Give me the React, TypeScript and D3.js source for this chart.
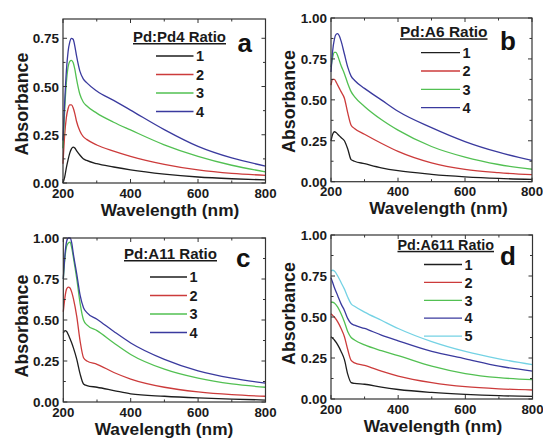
import React from "react";
import * as d3 from "d3";

// ---------- DATA ----------
const xTicks = [200, 400, 600, 800];
const xMinorTicks = [300, 500, 700];
const yTicksA = [0, 0.25, 0.5, 0.75];
const yTicksFull = [0, 0.25, 0.5, 0.75, 1.0];
const seriesLabels4 = ["1", "2", "3", "4"];
const seriesLabels5 = ["1", "2", "3", "4", "5"];
const colors = ["#1e1e1e", "#cc3b3b", "#52c052", "#3a3a9e", "#74d2e4"];

const waveA = [200, 205, 210, 215, 220, 225, 230, 235, 240, 250, 260, 270, 300, 350, 400, 500, 600, 700, 800];
const pa1 = [0.0, 0.03, 0.08, 0.12, 0.155, 0.177, 0.186, 0.181, 0.168, 0.145, 0.126, 0.117, 0.1, 0.083, 0.068, 0.046, 0.031, 0.022, 0.016];
const pa2 = [0.1, 0.25, 0.34, 0.385, 0.405, 0.405, 0.39, 0.36, 0.32, 0.27, 0.24, 0.226, 0.197, 0.165, 0.138, 0.097, 0.068, 0.05, 0.04];
const pa3 = [0.18, 0.38, 0.52, 0.6, 0.63, 0.636, 0.625, 0.59, 0.54, 0.46, 0.42, 0.4, 0.362, 0.315, 0.275, 0.198, 0.138, 0.092, 0.058];
const pa4 = [0.22, 0.42, 0.58, 0.68, 0.73, 0.75, 0.745, 0.71, 0.66, 0.58, 0.54, 0.52, 0.477, 0.428, 0.378, 0.277, 0.19, 0.13, 0.088];

const waveB = [200, 205, 210, 215, 220, 225, 230, 240, 250, 260, 270, 300, 350, 400, 500, 600, 700, 800];
const pb1 = [0.25, 0.29, 0.305, 0.3, 0.29, 0.28, 0.27, 0.25, 0.2, 0.135, 0.125, 0.11, 0.085, 0.067, 0.045, 0.03, 0.02, 0.014];
const pb2 = [0.59, 0.625, 0.625, 0.61, 0.59, 0.57, 0.55, 0.51, 0.42, 0.345, 0.325, 0.29, 0.235, 0.185, 0.115, 0.075, 0.055, 0.043];
const pb3 = [0.7, 0.76, 0.79, 0.79, 0.77, 0.74, 0.71, 0.66, 0.6, 0.55, 0.52, 0.46, 0.38, 0.315, 0.215, 0.15, 0.105, 0.076];
const pb4 = [0.67, 0.8, 0.87, 0.9, 0.905, 0.89, 0.86, 0.78, 0.7, 0.645, 0.62, 0.57, 0.5, 0.43, 0.33, 0.245, 0.18, 0.13];

const waveC = [200, 205, 210, 215, 220, 225, 230, 240, 250, 260, 270, 300, 350, 400, 500, 600, 700, 800];
const pc1 = [0.42, 0.435, 0.43, 0.41, 0.385, 0.36, 0.33, 0.26, 0.17, 0.11, 0.1, 0.09, 0.07, 0.05, 0.035, 0.025, 0.018, 0.012];
const pc2 = [0.55, 0.64, 0.69, 0.7, 0.695, 0.67, 0.63, 0.52, 0.37, 0.27, 0.25, 0.23, 0.18, 0.14, 0.09, 0.062, 0.045, 0.035];
const pc3 = [0.75, 0.88, 0.95, 0.97, 0.975, 0.94, 0.88, 0.75, 0.6, 0.5, 0.47, 0.435, 0.36, 0.29, 0.2, 0.145, 0.11, 0.09];
const pc4 = [0.75, 0.9, 0.98, 1.0, 1.0, 0.97, 0.9, 0.78, 0.65, 0.575, 0.545, 0.505, 0.43, 0.36, 0.26, 0.19, 0.145, 0.115];

const waveD = [200, 205, 210, 220, 230, 240, 250, 260, 270, 300, 350, 400, 500, 600, 700, 800];
const pd1 = [0.38, 0.37, 0.36, 0.33, 0.29, 0.24, 0.15, 0.1, 0.095, 0.09, 0.072, 0.058, 0.04, 0.028, 0.02, 0.016];
const pd2 = [0.52, 0.51, 0.5, 0.47, 0.43, 0.38, 0.3, 0.235, 0.22, 0.205, 0.17, 0.14, 0.1, 0.075, 0.062, 0.055];
const pd3 = [0.59, 0.59, 0.585, 0.56, 0.52, 0.47, 0.41, 0.375, 0.36, 0.33, 0.295, 0.265, 0.2, 0.155, 0.13, 0.118];
const pd4 = [0.74, 0.71, 0.68, 0.63, 0.58, 0.54, 0.49, 0.46, 0.45, 0.43, 0.39, 0.355, 0.29, 0.245, 0.2, 0.17];
const pd5 = [0.78, 0.785, 0.78, 0.75, 0.71, 0.67, 0.62, 0.58, 0.565, 0.53, 0.48, 0.43, 0.35, 0.29, 0.245, 0.21];

const legendTitles = ["Pd:Pd4 Ratio", "Pd:A6 Ratio", "Pd:A11 Ratio", "Pd:A611 Ratio"];
const panelLetters = ["a", "b", "c", "d"];
const xAxisTitle = "Wavelength (nm)";
const yAxisTitle = "Absorbance";

// ---------- LAYOUT ----------
const FONT = "'Liberation Sans', Arial, sans-serif";

type PanelCfg = {
  left: number; right: number; top: number; bottom: number;
  yMax: number; yTicks: number[];
  wave: number[]; series: number[][]; labels: string[];
  title: string; letter: string;
  titleX: number; titleY: number; titleW: number;
  letterX: number; letterY: number;
  legX0: number; legX1: number; legY0: number; legDy: number;
  yLabelX: number; yLabelY: number; xLabelX: number;
};

const panels: PanelCfg[] = [
  {
    left: 63, right: 265.5, top: 19, bottom: 183, yMax: 0.85, yTicks: yTicksA,
    wave: waveA, series: [pa1, pa2, pa3, pa4], labels: seriesLabels4,
    title: legendTitles[0], letter: panelLetters[0],
    titleX: 133, titleY: 42, titleW: 93,
    letterX: 237.5, letterY: 51.5,
    legX0: 156, legX1: 193.5, legY0: 56, legDy: 18.5,
    yLabelX: 28, yLabelY: 104, xLabelX: 170,
  },
  {
    left: 331, right: 532, top: 18, bottom: 181.7, yMax: 1.0, yTicks: yTicksFull,
    wave: waveB, series: [pb1, pb2, pb3, pb4], labels: seriesLabels4,
    title: legendTitles[1], letter: panelLetters[1],
    titleX: 400, titleY: 37.3, titleW: 87.5,
    letterX: 500, letterY: 49.5,
    legX0: 421, legX1: 460, legY0: 52.7, legDy: 18.3,
    yLabelX: 295, yLabelY: 101.5, xLabelX: 438.5,
  },
  {
    left: 63.3, right: 265.5, top: 238, bottom: 402, yMax: 1.0, yTicks: yTicksFull,
    wave: waveC, series: [pc1, pc2, pc3, pc4], labels: seriesLabels4,
    title: legendTitles[2], letter: panelLetters[2],
    titleX: 124, titleY: 259, titleW: 93,
    letterX: 236, letterY: 266.5,
    legX0: 150, legX1: 187, legY0: 277, legDy: 18.5,
    yLabelX: 28, yLabelY: 326, xLabelX: 164,
  },
  {
    left: 331, right: 532.5, top: 235, bottom: 399, yMax: 1.0, yTicks: yTicksFull,
    wave: waveD, series: [pd1, pd2, pd3, pd4, pd5], labels: seriesLabels5,
    title: legendTitles[3], letter: panelLetters[3],
    titleX: 397.5, titleY: 249.8, titleW: 96.5,
    letterX: 500, letterY: 264.5,
    legX0: 424, legX1: 462, legY0: 264.5, legDy: 17.9,
    yLabelX: 295, yLabelY: 313.5, xLabelX: 433,
  },
];

function Panel({ p }: { p: PanelCfg }) {
  const x = d3.scaleLinear().domain([200, 800]).range([p.left, p.right]);
  const y = d3.scaleLinear().domain([0, p.yMax]).range([p.bottom, p.top]);
  const line = d3
    .line<[number, number]>()
    .x((d) => x(d[0]))
    .y((d) => y(d[1]))
    .curve(d3.curveMonotoneX);
  const yMinor: number[] = d3.range(0.125, p.yMax, 0.25);
  const axisColor = "#333";
  const tickLen = 4;
  const minorLen = 2.5;
  return (
    <g>
      {p.series.map((s, i) => (
        <path
          key={i}
          d={line(p.wave.map((w, j) => [w, s[j]] as [number, number])) || ""}
          fill="none"
          stroke={colors[i]}
          strokeWidth={1.3}
        />
      ))}
      <rect
        x={p.left}
        y={p.top}
        width={p.right - p.left}
        height={p.bottom - p.top}
        fill="none"
        stroke={axisColor}
        strokeWidth={1.2}
      />
      {xTicks.map((t) => (
        <g key={"xt" + t}>
          <line x1={x(t)} x2={x(t)} y1={p.bottom} y2={p.bottom - tickLen} stroke={axisColor} strokeWidth={1} />
          <line x1={x(t)} x2={x(t)} y1={p.top} y2={p.top + tickLen} stroke={axisColor} strokeWidth={1} />
          <text x={x(t)} y={p.bottom + 14.5} textAnchor="middle" fontFamily={FONT} fontWeight="bold" fontSize={13.3} fill="#1a1a1a">
            {t}
          </text>
        </g>
      ))}
      {xMinorTicks.map((t) => (
        <g key={"xm" + t}>
          <line x1={x(t)} x2={x(t)} y1={p.bottom} y2={p.bottom - minorLen} stroke={axisColor} strokeWidth={1} />
          <line x1={x(t)} x2={x(t)} y1={p.top} y2={p.top + minorLen} stroke={axisColor} strokeWidth={1} />
        </g>
      ))}
      {p.yTicks.map((t) => (
        <g key={"yt" + t}>
          <line x1={p.left} x2={p.left + tickLen} y1={y(t)} y2={y(t)} stroke={axisColor} strokeWidth={1} />
          <line x1={p.right} x2={p.right - tickLen} y1={y(t)} y2={y(t)} stroke={axisColor} strokeWidth={1} />
          <text x={p.left - 4} y={y(t) + 5} textAnchor="end" fontFamily={FONT} fontWeight="bold" fontSize={13.5} fill="#1a1a1a">
            {t.toFixed(2)}
          </text>
        </g>
      ))}
      {yMinor.map((t) => (
        <g key={"ym" + t}>
          <line x1={p.left} x2={p.left + minorLen} y1={y(t)} y2={y(t)} stroke={axisColor} strokeWidth={1} />
          <line x1={p.right} x2={p.right - minorLen} y1={y(t)} y2={y(t)} stroke={axisColor} strokeWidth={1} />
        </g>
      ))}
      <text
        x={p.xLabelX}
        y={p.bottom + 32.5}
        textAnchor="middle"
        fontFamily={FONT}
        fontWeight="bold"
        fontSize={17.3}
        fill="#1a1a1a"
      >
        {xAxisTitle}
      </text>
      <text
        transform={`translate(${p.yLabelX},${p.yLabelY}) rotate(-90)`}
        textAnchor="middle"
        fontFamily={FONT}
        fontWeight="bold"
        fontSize={17.8}
        fill="#1a1a1a"
      >
        {yAxisTitle}
      </text>
      <text
        x={p.titleX}
        y={p.titleY}
        fontFamily={FONT}
        fontWeight="bold"
        fontSize={15}
        fill="#1a1a1a"
        textDecoration="underline"
        textLength={p.titleW}
        lengthAdjust="spacingAndGlyphs"
      >
        {p.title}
      </text>
      {p.labels.map((l, i) => (
        <g key={"lg" + i}>
          <line
            x1={p.legX0}
            x2={p.legX1}
            y1={p.legY0 + i * p.legDy}
            y2={p.legY0 + i * p.legDy}
            stroke={colors[i]}
            strokeWidth={1.3}
          />
          <text
            x={p.legX1 + 2.5}
            y={p.legY0 + i * p.legDy + 5.2}
            fontFamily={FONT}
            fontWeight="bold"
            fontSize={14.5}
            fill="#1a1a1a"
          >
            {l}
          </text>
        </g>
      ))}
      <text x={p.letterX} y={p.letterY} fontFamily={FONT} fontWeight="bold" fontSize={26} fill="#111">
        {p.letter}
      </text>
    </g>
  );
}

export default function App() {
  return (
    <svg
      width={543}
      height={438}
      style={{ position: "absolute", left: 0, top: 0, background: "#fff" }}
    >
      <rect width={543} height={438} fill="#fff" />
      {panels.map((p, i) => (
        <Panel key={i} p={p} />
      ))}
    </svg>
  );
}
